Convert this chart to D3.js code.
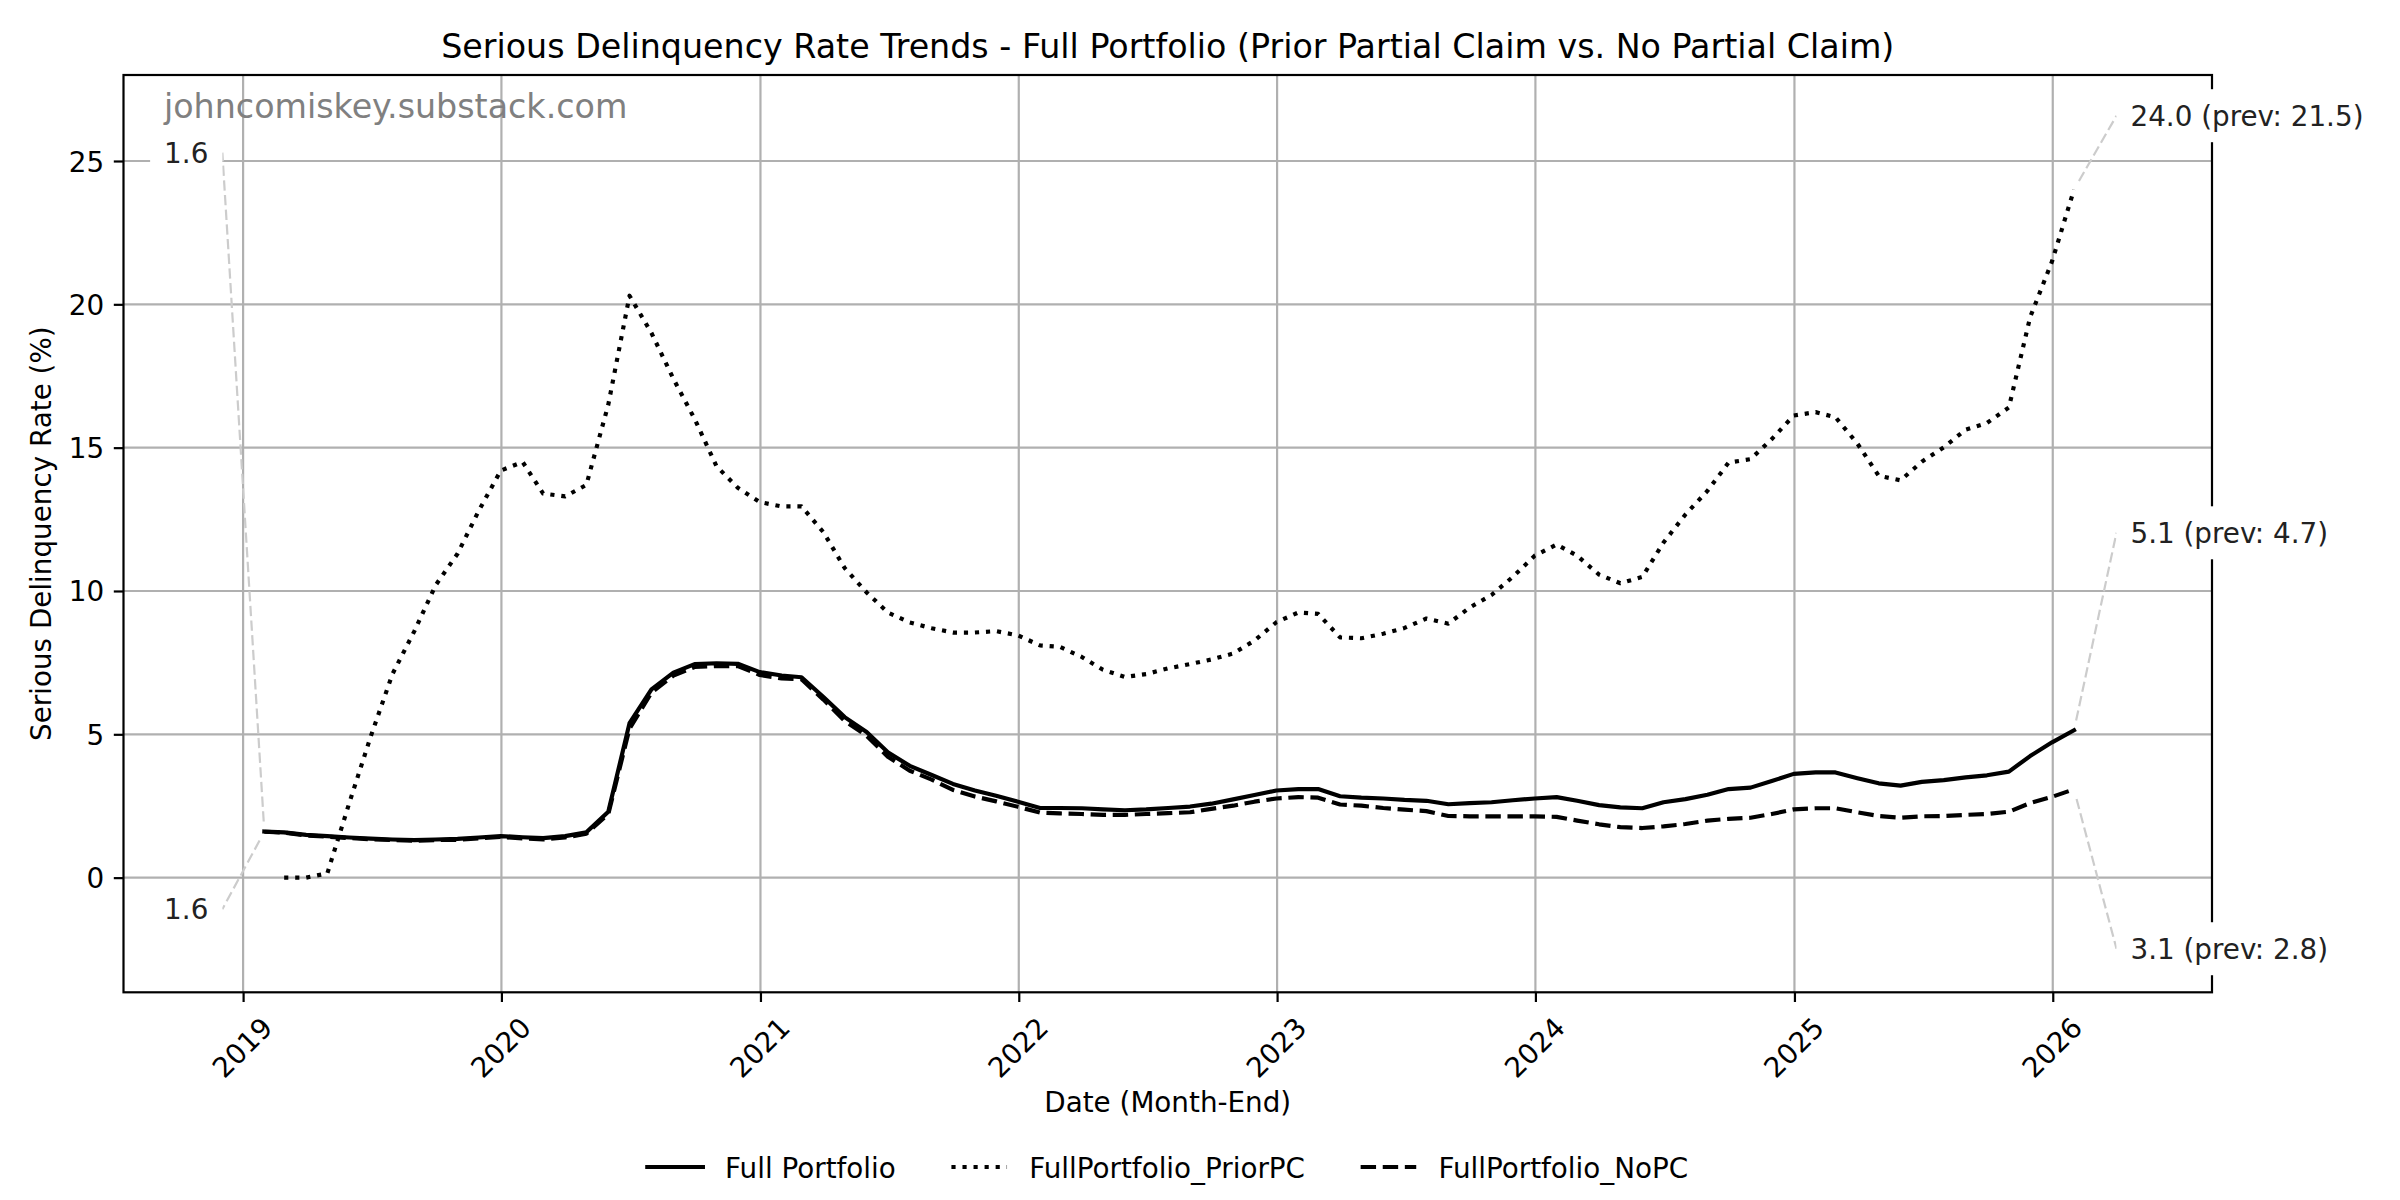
<!DOCTYPE html>
<html>
<head>
<meta charset="utf-8">
<script src="https://cdn.jsdelivr.net/npm/d3@7"></script>
<style>
  body { margin: 0; background: #fff; }
  svg { display: block; font-family: "DejaVu Sans", sans-serif; }
</style>
</head>
<body>
<svg id="chart" width="2400" height="1200"></svg>
<script>
// ---------------- DATA ----------------
const firstMonth = { year: 2019, month: 0 };   // Jan 2019 (month-end values)
const seriesNames = ["Full Portfolio", "FullPortfolio_PriorPC", "FullPortfolio_NoPC"];

const fullPortfolio = [
  1.61, 1.58, 1.49, 1.45, 1.40, 1.36, 1.33, 1.31, 1.33, 1.35, 1.40, 1.45,
  1.41, 1.38, 1.45, 1.58, 2.30, 5.39, 6.57, 7.15, 7.45, 7.48, 7.46, 7.17,
  7.05, 6.99, 6.30, 5.60, 5.08, 4.37, 3.90, 3.58, 3.27, 3.04, 2.86, 2.65,
  2.43, 2.43, 2.42, 2.38, 2.35, 2.38, 2.43, 2.48, 2.58, 2.73, 2.88, 3.04,
  3.09, 3.09, 2.84, 2.79, 2.76, 2.71, 2.68, 2.56, 2.60, 2.63, 2.70, 2.76,
  2.81, 2.68, 2.53, 2.45, 2.42, 2.63, 2.74, 2.89, 3.09, 3.14, 3.37, 3.62,
  3.67, 3.67, 3.47, 3.29, 3.21, 3.34, 3.40, 3.50, 3.57, 3.70, 4.24, 4.72,
  5.14
];

const fullPortfolioPriorPC = [
  null, 0.00, 0.00, 0.15, 2.60, 4.90, 7.10, 8.60, 10.20, 11.30, 12.80, 14.20,
  14.50, 13.40, 13.30, 13.70, 16.50, 20.30, 19.00, 17.40, 16.00, 14.35, 13.60, 13.10,
  12.95, 12.95, 12.05, 10.80, 9.95, 9.25, 8.90, 8.70, 8.55, 8.55, 8.60, 8.45,
  8.10, 8.05, 7.70, 7.25, 7.00, 7.10, 7.30, 7.45, 7.61, 7.82, 8.27, 8.91,
  9.25, 9.20, 8.38, 8.35, 8.51, 8.71, 9.04, 8.86, 9.42, 9.86, 10.49, 11.23,
  11.62, 11.23, 10.57, 10.27, 10.49, 11.69, 12.67, 13.49, 14.48, 14.60, 15.30, 16.12,
  16.24, 16.06, 15.14, 14.02, 13.86, 14.51, 15.01, 15.63, 15.86, 16.40, 19.55, 21.50,
  24.00
];

const fullPortfolioNoPC = [
  1.60, 1.57, 1.47, 1.43, 1.38, 1.34, 1.31, 1.29, 1.31, 1.32, 1.37, 1.42,
  1.37, 1.33, 1.40, 1.53, 2.22, 5.20, 6.45, 7.05, 7.35, 7.38, 7.38, 7.07,
  6.95, 6.92, 6.21, 5.47, 4.95, 4.22, 3.73, 3.42, 3.06, 2.83, 2.66, 2.47,
  2.27, 2.24, 2.22, 2.19, 2.19, 2.22, 2.25, 2.28, 2.40, 2.51, 2.65, 2.76,
  2.81, 2.79, 2.55, 2.51, 2.43, 2.37, 2.32, 2.15, 2.14, 2.14, 2.14, 2.14,
  2.12, 1.99, 1.86, 1.76, 1.73, 1.79, 1.87, 1.99, 2.05, 2.09, 2.22, 2.38,
  2.42, 2.42, 2.28, 2.15, 2.09, 2.14, 2.15, 2.19, 2.22, 2.30, 2.60, 2.82,
  3.08
];

const yTickValues = [0, 5, 10, 15, 20, 25];
const xTickYears = [2019, 2020, 2021, 2022, 2023, 2024, 2025, 2026];

// value-label annotations: which series, which end, and the label's height (in % units)
const labelSeries = [0, 2, 1, 0, 2];
const labelEnd    = ["first", "first", "last", "last", "last"];
const labelLevel  = [25.29, -1.10, 26.58, 12.03, -2.48];

const titleText = "Serious Delinquency Rate Trends - Full Portfolio (Prior Partial Claim vs. No Partial Claim)";
const watermark = "johncomiskey.substack.com";

// ---------------- LAYOUT ----------------
const svg = d3.select("#chart");
const L = 123.5, R = 2212, T = 75, B = 992.3;
const FS = 27.8;                   // 10pt @ 200dpi
const LW = 4.17;                   // 1.5pt line width
const GRIDW = 2.2;

const dates = fullPortfolio.map((_, k) => new Date(Date.UTC(firstMonth.year, firstMonth.month + k + 1, 0)));

const x = d3.scaleUtc()
  .domain([new Date(Date.UTC(2018, 6, 16)), new Date(Date.UTC(2026, 7, 14))])
  .range([L, R]);
const y = d3.scaleLinear().domain([-4, 28]).range([B, T]);

svg.append("rect").attr("width", 2400).attr("height", 1200).attr("fill", "#fff");

// grid
const grid = svg.append("g");
const yearDates = xTickYears.map(yr => new Date(Date.UTC(yr, 0, 1)));
grid.selectAll("line.vg").data(yearDates).join("line")
  .attr("x1", d => x(d)).attr("x2", d => x(d)).attr("y1", T).attr("y2", B)
  .attr("stroke", "#b0b0b0").attr("stroke-width", GRIDW);
grid.selectAll("line.hg").data(yTickValues).join("line")
  .attr("x1", L).attr("x2", R).attr("y1", d => y(d)).attr("y2", d => y(d))
  .attr("stroke", "#b0b0b0").attr("stroke-width", GRIDW);

// series
const seriesValues = [fullPortfolio, fullPortfolioPriorPC, fullPortfolioNoPC];
const dashes = [null, `${LW * 1} ${LW * 1.65}`, `${LW * 3.7} ${LW * 1.6}`];
const line = d3.line()
  .defined(d => d.v !== null)
  .x(d => x(d.date)).y(d => y(d.v));

seriesValues.forEach((vals, i) => {
  const pts = vals.map((v, k) => ({ date: dates[k], v }));
  svg.append("path")
    .attr("d", line(pts))
    .attr("fill", "none")
    .attr("stroke", "#000")
    .attr("stroke-width", LW)
    .attr("stroke-linejoin", "round")
    .attr("stroke-linecap", i === 0 ? "square" : "butt")
    .attr("stroke-dasharray", dashes[i]);
});

// spines
svg.append("rect").attr("x", L).attr("y", T).attr("width", R - L).attr("height", B - T)
  .attr("fill", "none").attr("stroke", "#000").attr("stroke-width", GRIDW);

// axes
const xAxis = d3.axisBottom(x).tickValues(yearDates).tickFormat(d3.utcFormat("%Y"))
  .tickSize(9.7).tickSizeOuter(0);
const gx = svg.append("g").attr("transform", `translate(0,${B})`).call(xAxis);
gx.select(".domain").remove();
gx.selectAll(".tick line").attr("stroke", "#000").attr("stroke-width", GRIDW);
gx.selectAll(".tick text")
  .attr("y", null).attr("dy", null)
  .attr("font-size", FS).attr("font-family", "DejaVu Sans").attr("fill", "#000")
  .attr("text-anchor", "middle").attr("dominant-baseline", "central")
  .attr("transform", "translate(-1,55.5) rotate(-45)");

const yAxis = d3.axisLeft(y).tickValues(yTickValues).tickFormat(d3.format("d"))
  .tickSize(9.7).tickPadding(9.7).tickSizeOuter(0);
const gy = svg.append("g").attr("transform", `translate(${L},0)`).call(yAxis);
gy.select(".domain").remove();
gy.selectAll(".tick line").attr("stroke", "#000").attr("stroke-width", GRIDW);
gy.selectAll(".tick text").attr("font-size", FS).attr("font-family", "DejaVu Sans")
  .attr("fill", "#000").attr("dy", "0.36em");

// title & axis labels
const cxAxes = (L + R) / 2;
svg.append("text").attr("x", cxAxes).attr("y", 57.5).attr("text-anchor", "middle")
  .attr("font-size", 33.3).attr("fill", "#000").text(titleText);
svg.append("text").attr("x", cxAxes).attr("y", 1112).attr("text-anchor", "middle")
  .attr("font-size", FS).attr("fill", "#000").text("Date (Month-End)");
svg.append("text").attr("transform", `translate(51,${(T + B) / 2}) rotate(-90)`)
  .attr("text-anchor", "middle").attr("font-size", FS).attr("fill", "#000")
  .text("Serious Delinquency Rate (%)");

// watermark
svg.append("text").attr("x", 164).attr("y", 118).attr("font-size", 33.3)
  .attr("fill", "#808080").text(watermark);

// annotations
const ann = svg.append("g");
labelSeries.forEach((si, j) => {
  const vals = seriesValues[si];
  const valid = vals.map((v, k) => ({ v, k })).filter(d => d.v !== null);
  const isLast = labelEnd[j] === "last";
  const pt = isLast ? valid[valid.length - 1] : valid[0];
  const prev = valid[valid.length - 2];
  const txt = isLast ? `${pt.v.toFixed(1)} (prev: ${prev.v.toFixed(1)})` : pt.v.toFixed(1);
  const px = x(dates[pt.k]), py = y(pt.v);
  const cy = y(labelLevel[j]);
  const boxEdge = isLast ? px + 42.5 : px - 42;
  // leader line (shrunk near the data point)
  const dx = boxEdge - px, dy = cy - py, len = Math.hypot(dx, dy);
  const sx = px + dx / len * 10, sy = py + dy / len * 10;
  ann.append("line").attr("x1", sx).attr("y1", sy).attr("x2", boxEdge).attr("y2", cy)
    .attr("stroke", "#cccccc").attr("stroke-width", 2.2).attr("stroke-dasharray", "10.3 4.4");
  const box = ann.append("rect").attr("fill", "#fff");
  const t = ann.append("text")
    .attr("x", isLast ? boxEdge + 14 : boxEdge - 14)
    .attr("y", cy + 10.1)
    .attr("text-anchor", isLast ? "start" : "end")
    .attr("font-size", FS).attr("fill", "#222").text(txt);
  const w = t.node().getComputedTextLength();
  box.attr("x", isLast ? boxEdge : boxEdge - w - 28).attr("y", cy - 26.5)
    .attr("width", w + 28).attr("height", 53);
});

// legend
const lg = svg.append("g");
let cur = 0;
const handleLen = 55.6, handlePad = 22.2, colSpace = 55.6;
seriesNames.forEach((name, i) => {
  const g = lg.append("g").attr("transform", `translate(${cur},0)`);
  g.append("line").attr("x1", 0).attr("x2", handleLen).attr("y1", 0).attr("y2", 0)
    .attr("stroke", "#000").attr("stroke-width", LW)
    .attr("stroke-linecap", i === 0 ? "square" : "butt")
    .attr("stroke-dasharray", dashes[i]);
  const t = g.append("text").attr("x", handleLen + handlePad).attr("y", 11)
    .attr("font-size", FS).attr("fill", "#000").text(name);
  cur += handleLen + handlePad + t.node().getComputedTextLength() + colSpace;
});
const total = cur - colSpace;
lg.attr("transform", `translate(${cxAxes - total / 2},1167)`);
</script>
</body>
</html>
